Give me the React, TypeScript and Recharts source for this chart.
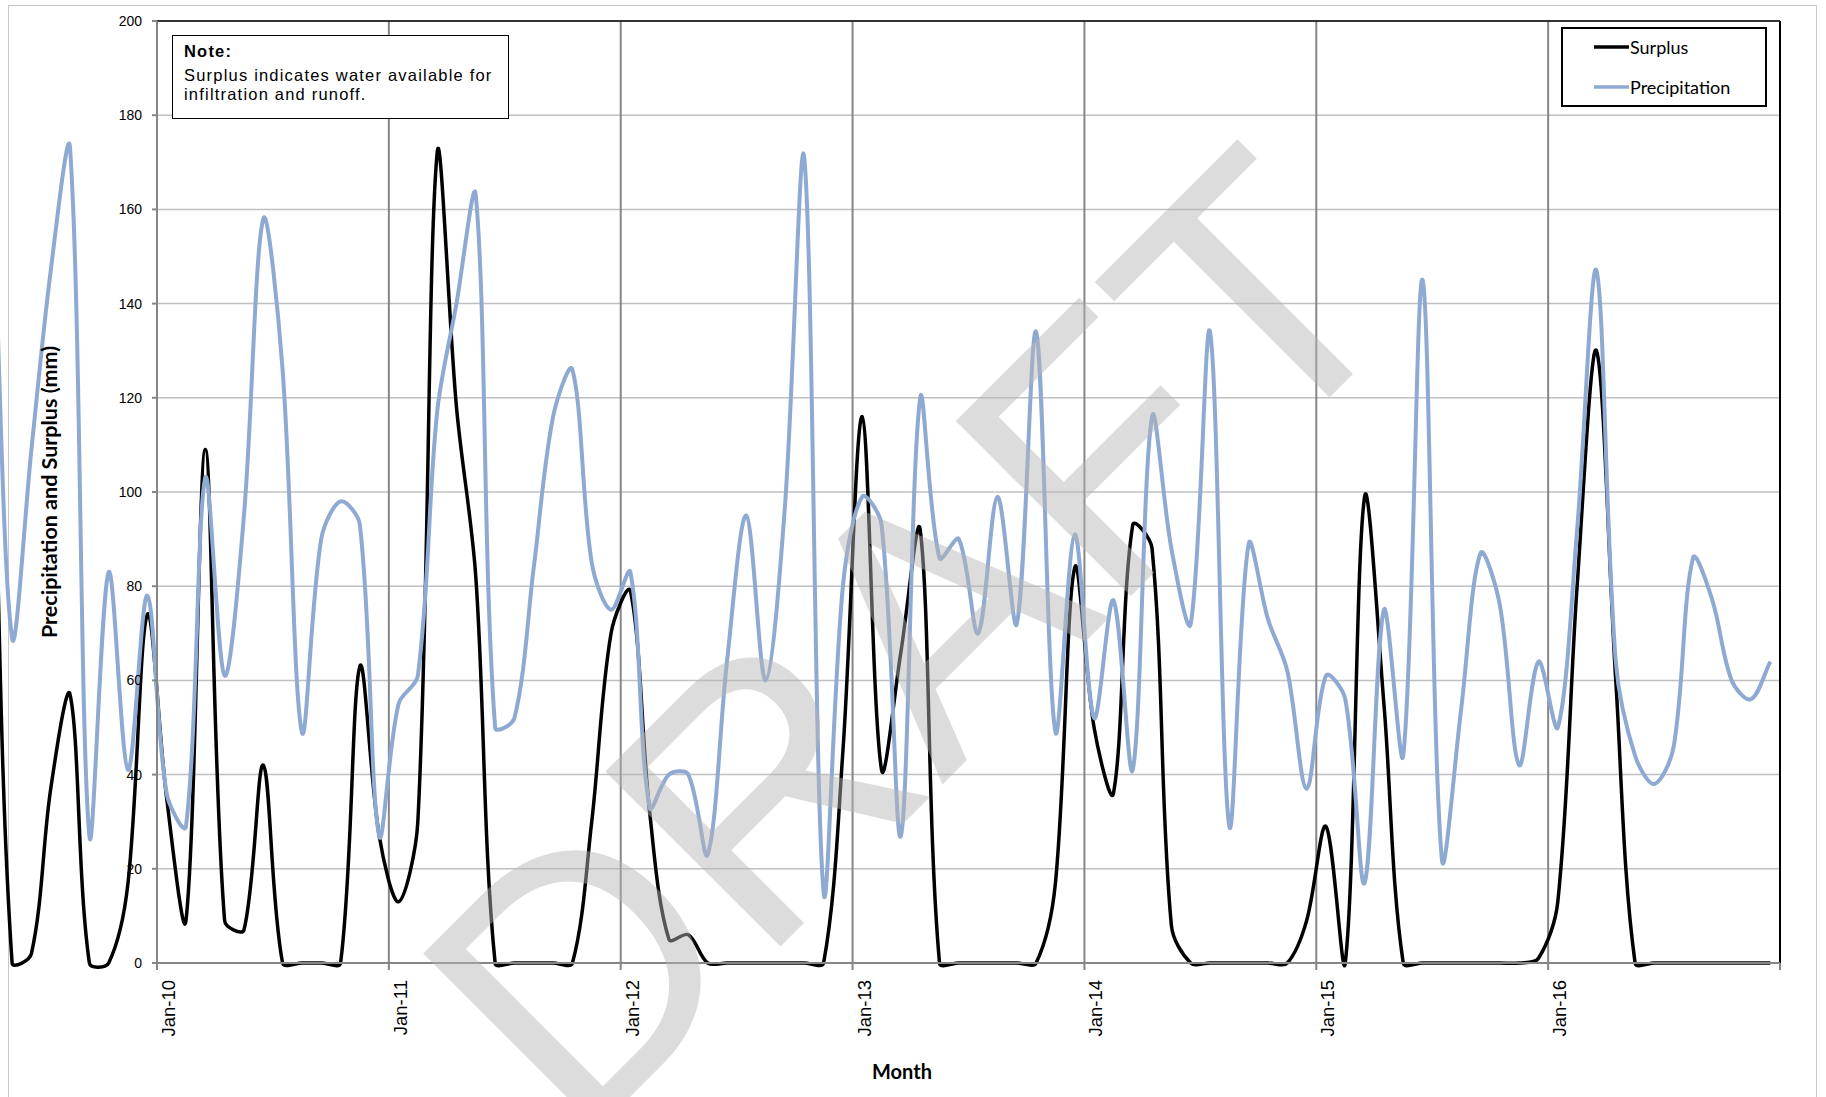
import { LineChart, Line, XAxis, YAxis, CartesianGrid, Legend, ReferenceLine, Label } from 'recharts'

// Monthly values in mm. 2009 starts in April, every other year runs Jan-Dec.
const firstMonth2009 = 3

const surplus2009 = [125, 0, 2, 37, 57, 0, 0, 17, 74]
const surplus2010 = [35, 9, 109, 9, 7, 42, 0, 0, 0, 0, 63, 27]
const surplus2011 = [13, 30, 172, 118, 82, 0, 0, 0, 0, 0, 30, 70]
const surplus2012 = [79, 32, 5, 6, 0, 0, 0, 0, 0, 0, 0, 45]
const surplus2013 = [116, 41, 66, 92, 0, 0, 0, 0, 0, 0, 17, 84]
const surplus2014 = [50, 36, 93, 88, 8, 0, 0, 0, 0, 0, 0, 9]
const surplus2015 = [29, 0, 99, 55, 0, 0, 0, 0, 0, 0, 0, 1]
const surplus2016 = [13, 80, 130, 60, 0, 0, 0, 0, 0, 0, 0, 0]

const precip2009 = [165, 69, 109, 147, 173, 27, 83, 41, 78]
const precip2010 = [36, 29, 103, 61, 95, 158, 126, 49, 90, 98, 93, 27]
const precip2011 = [55, 61, 117, 140, 163, 50, 52, 84, 116, 126, 85, 75]
const precip2012 = [83, 33, 40, 40, 23, 64, 95, 60, 97, 171, 15, 80]
const precip2013 = [99, 93, 27, 120, 86, 90, 70, 99, 72, 134, 49, 91]
const precip2014 = [52, 77, 41, 116, 88, 72, 134, 29, 89, 73, 62, 37]
const precip2015 = [61, 56, 17, 75, 44, 145, 22, 54, 87, 76, 42, 64]
const precip2016 = [50, 92, 147, 64, 44, 38, 46, 86, 77, 60, 56, 64]

const tickLabels = ['Jan-10', 'Jan-11', 'Jan-12', 'Jan-13', 'Jan-14', 'Jan-15', 'Jan-16']
const yTicks = [0, 20, 40, 60, 80, 100, 120, 140, 160, 180, 200]
const seriesOrder = ['Surplus', 'Precipitation']

const surplusYears = [surplus2009, surplus2010, surplus2011, surplus2012, surplus2013, surplus2014, surplus2015, surplus2016]
const precipYears = [precip2009, precip2010, precip2011, precip2012, precip2013, precip2014, precip2015, precip2016]

// m = months since Jan-10, each month sits in the middle of its slot
const data = surplusYears.flatMap((vals, y) =>
  vals.map((s, j) => ({
    m: (y - 1) * 12 + j + (y === 0 ? firstMonth2009 : 0),
    surplus: s,
    precipitation: precipYears[y][j],
  }))
)

// year boundaries, where the gridlines go
const yearStarts = tickLabels.map((_, k) => k * 12 - 0.5).concat(tickLabels.length * 12 - 0.5)

// Excel style smoothing: bezier with tangents scaled by chord lengths
function excelSmooth(context: any) {
  let pts: number[][] = []
  const dist = (a: number[], b: number[]) => Math.hypot(b[0] - a[0], b[1] - a[1])
  return {
    areaStart() {},
    areaEnd() {},
    lineStart() {
      pts = []
    },
    point(x: number, y: number) {
      pts.push([+x, +y])
    },
    lineEnd() {
      const n = pts.length
      if (!n) return
      context.moveTo(pts[0][0], pts[0][1])
      for (let i = 0; i < n - 1; i++) {
        const p0 = pts[Math.max(i - 1, 0)]
        const p1 = pts[i]
        const p2 = pts[i + 1]
        const p3 = pts[Math.min(i + 2, n - 1)]
        const d01 = dist(p0, p1)
        const d12 = dist(p1, p2)
        const d23 = dist(p2, p3)
        const f1 = d01 + d12 > 0 ? d12 / (3 * (d01 + d12)) : 0
        const f2 = d12 + d23 > 0 ? d12 / (3 * (d12 + d23)) : 0
        context.bezierCurveTo(
          p1[0] + (p2[0] - p0[0]) * f1,
          p1[1] + (p2[1] - p0[1]) * f1,
          p2[0] - (p3[0] - p1[0]) * f2,
          p2[1] - (p3[1] - p1[1]) * f2,
          p2[0],
          p2[1]
        )
      }
    },
  }
}

function MonthTick({ x, y, payload }: any) {
  const k = Math.round((payload.value + 0.5) / 12)
  const tx = x + 18
  const ty = y + 8
  return (
    <text x={tx} y={ty} transform={`rotate(-90 ${tx} ${ty})`} textAnchor="end" fontSize={18.5} fill="#000" fontFamily="'Liberation Sans', Arial, sans-serif">
      {tickLabels[k] ?? ''}
    </text>
  )
}

const renderLegend = (props: any) => {
  const items = [...props.payload].sort((a: any, b: any) => seriesOrder.indexOf(a.value) - seriesOrder.indexOf(b.value))
  return (
    <div style={{ position: 'relative', width: 206, height: 80, border: '2px solid #000', boxSizing: 'border-box', background: '#fff' }}>
      {items.map((entry: any, i: number) => (
        <div key={entry.value} style={{ position: 'absolute', left: 0, top: 6 + i * 40, height: 24, display: 'flex', alignItems: 'center' }}>
          <svg width={66} height={8} style={{ flex: 'none' }}>
            <line x1={31} y1={4} x2={66} y2={4} stroke={entry.color} strokeWidth={3.5} />
          </svg>
          <span style={{ fontFamily: 'Lato, sans-serif', fontSize: 18, color: '#000', marginLeft: 1, whiteSpace: 'nowrap' }}>{entry.value}</span>
        </div>
      ))}
    </div>
  )
}

const titleFont = { fontFamily: 'Lato, sans-serif', fontWeight: 700, fill: '#000' }

export default function App() {
  return (
    <div style={{ position: 'absolute', left: 0, top: 0, width: 1826, height: 1097, overflow: 'hidden', background: '#fff', fontFamily: "'Liberation Sans', Arial, sans-serif" }}>
      <style>{'.recharts-line, .recharts-line * { clip-path: none !important; }'}</style>
      <div style={{ position: 'absolute', left: 8, top: 5, width: 1809, height: 1110, border: '1px solid #c8c8c8', boxSizing: 'border-box' }} />

      <LineChart width={1826} height={1097} data={data} margin={{ top: 21, right: 46, bottom: 34, left: 8 }}>
        <CartesianGrid vertical={false} stroke="#c0c0c0" strokeWidth={1.5} />
        <CartesianGrid horizontal={false} stroke="#868686" strokeWidth={2} />
        <XAxis
          dataKey="m"
          type="number"
          domain={[-0.5, 83.5]}
          allowDataOverflow
          ticks={yearStarts}
          interval={0}
          height={100}
          tickSize={7}
          tick={<MonthTick />}
          axisLine={{ stroke: '#868686', strokeWidth: 2 }}
          tickLine={{ stroke: '#868686', strokeWidth: 2 }}
        >
          <Label
            content={() => (
              <text x={902} y={1079} textAnchor="middle" fontSize={20} {...titleFont}>
                Month
              </text>
            )}
          />
        </XAxis>
        <YAxis
          domain={[0, 200]}
          ticks={yTicks}
          interval={0}
          width={149}
          tickSize={5}
          tickMargin={10}
          tick={{ fontSize: 14, fill: '#000', fontFamily: "'Liberation Sans', Arial, sans-serif" }}
          axisLine={{ stroke: '#868686', strokeWidth: 2 }}
          tickLine={{ stroke: '#868686', strokeWidth: 2 }}
        >
          <Label
            content={({ viewBox }: any) => {
              const cy = viewBox.y + viewBox.height / 2
              return (
                <text x={57} y={cy} transform={`rotate(-90 57 ${cy})`} textAnchor="middle" fontSize={21.5} {...titleFont}>
                  Precipitation and Surplus (mm)
                </text>
              )
            }}
          />
        </YAxis>
        <ReferenceLine y={200} stroke="#000" strokeWidth={1.5} />
        <ReferenceLine x={83.5} stroke="#000" strokeWidth={2} />
        <Line dataKey="surplus" name="Surplus" type={excelSmooth as any} stroke="#000" strokeWidth={3.5} dot={false} activeDot={false} isAnimationActive={false} />
        <Line dataKey="precipitation" name="Precipitation" type={excelSmooth as any} stroke="#8eaad3" strokeWidth={4} dot={false} activeDot={false} isAnimationActive={false} />
        <Legend
          layout="vertical"
          align="center"
          verticalAlign="middle"
          content={renderLegend}
          wrapperStyle={{ left: 1561, top: 27, width: 206, height: 80 }}
        />
      </LineChart>

      <div
        style={{
          position: 'absolute',
          left: 172,
          top: 35,
          width: 337,
          height: 84,
          border: '1px solid #000',
          boxSizing: 'border-box',
          background: '#fff',
          padding: '6px 0 0 11px',
          fontSize: 16.5,
          letterSpacing: 1.2,
          color: '#000',
          lineHeight: '19px',
        }}
      >
        <div style={{ fontWeight: 700, marginBottom: 5 }}>Note:</div>
        <div style={{ whiteSpace: 'nowrap' }}>Surplus indicates water available for</div>
        <div>infiltration and runoff.</div>
      </div>

      <svg width={1826} height={1097} style={{ position: 'absolute', left: 0, top: 0, pointerEvents: 'none' }}>
        <text
          x={998}
          y={729}
          transform="rotate(-45 998 729)"
          textAnchor="middle"
          fontSize={360}
          textLength={1189}
          lengthAdjust="spacingAndGlyphs"
          fontFamily="'Liberation Sans', Arial, sans-serif"
          fill="rgb(181,181,181)"
          fillOpacity={0.47}
        >
          DRAFT
        </text>
      </svg>
    </div>
  )
}
